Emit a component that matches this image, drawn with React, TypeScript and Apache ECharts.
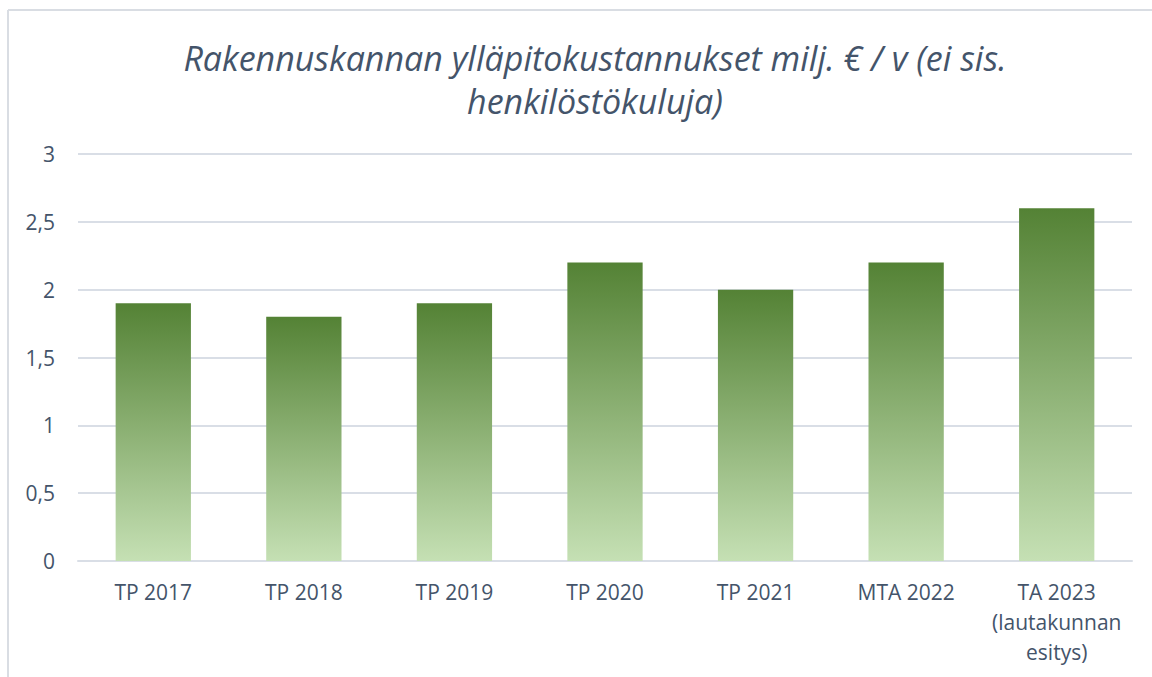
import React, { useEffect, useRef } from "react";
import * as echarts from "echarts";

const categories = ["TP 2017", "TP 2018", "TP 2019", "TP 2020", "TP 2021", "MTA 2022", "TA 2023\n(lautakunnan\nesitys)"];
const values = [1.9, 1.8, 1.9, 2.2, 2.0, 2.2, 2.6];
const titleText = "Rakennuskannan ylläpitokustannukset milj. € / v (ei sis.\nhenkilöstökuluja)";

export default function App() {
  const ref = useRef<HTMLDivElement>(null);
  useEffect(() => {
    const chart = echarts.init(ref.current!, null, { renderer: "svg" });
    const textColor = "#44546a";
    chart.setOption({
      animation: false,
      backgroundColor: "#ffffff",
      title: {
        text: titleText,
        left: 590,
        top: 31,
        textAlign: "center",
        textStyle: {
          fontFamily: "Open Sans",
          fontStyle: "italic",
          fontWeight: "normal",
          fontSize: 34,
          lineHeight: 43,
          color: textColor,
        },
      },
      graphic: [
        { type: "line", shape: { x1: 8, y1: 10, x2: 1152, y2: 10 }, style: { stroke: "#d9dde3", lineWidth: 2 } },
        { type: "line", shape: { x1: 8, y1: 10, x2: 8, y2: 677 }, style: { stroke: "#d9dde3", lineWidth: 2 } },
      ],
      grid: { left: 78, right: 20, top: 154, bottom: 116, containLabel: false },
      xAxis: {
        type: "category",
        data: categories,
        axisLine: { lineStyle: { color: "#d9dee6", width: 2 } },
        axisTick: { show: false },
        axisLabel: {
          color: textColor,
          fontFamily: "Open Sans",
          fontSize: 21,
          lineHeight: 30,
          margin: 16,
          interval: 0,
        },
      },
      yAxis: {
        type: "value",
        min: 0,
        max: 3,
        interval: 0.5,
        axisLine: { show: false },
        axisTick: { show: false },
        splitLine: { lineStyle: { color: "#d9dee6", width: 2 } },
        axisLabel: {
          color: textColor,
          fontFamily: "Open Sans",
          fontSize: 21,
          margin: 23,
          formatter: (v: number) => String(v).replace(".", ","),
        },
      },
      series: [
        {
          type: "bar",
          data: values,
          barWidth: "50%",
          itemStyle: {
            color: new echarts.graphic.LinearGradient(0, 0, 0, 1, [
              { offset: 0, color: "#548235" },
              { offset: 1, color: "#c5e0b4" },
            ]),
          },
        },
      ],
    });
    return () => chart.dispose();
  }, []);
  return <div ref={ref} style={{ position: "fixed", left: 0, top: 0, width: 1152, height: 677 }} />;
}
